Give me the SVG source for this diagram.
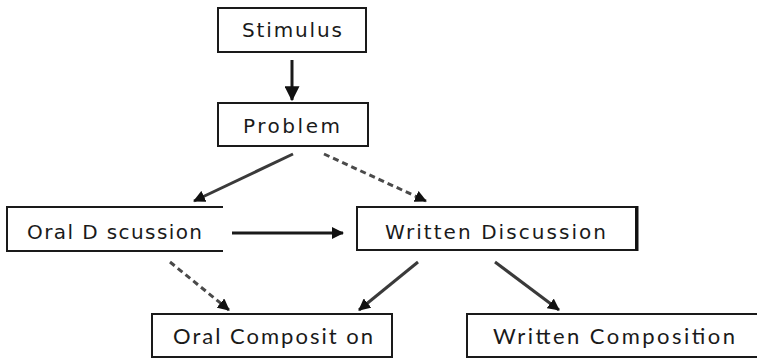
<svg xmlns="http://www.w3.org/2000/svg" width="757" height="358" viewBox="0 0 757 358">
  <style>
    .box { fill: #ffffff; stroke: #1a1a1a; stroke-width: 2; }
    .edge { fill: #ffffff; stroke: #1a1a1a; stroke-width: 2; }
    .lbl { font-family: "DejaVu Sans", Verdana, sans-serif; font-size: 20px; fill: #1a1a1a; }
    .lbl2 { font-family: Lato, "Liberation Sans", sans-serif; font-size: 22px; fill: #1a1a1a; }
    .solid { fill: none; stroke: #1a1a1a; stroke-width: 3; }
    .solid-gray { fill: none; stroke: #3a3a3a; stroke-width: 3; }
    .dashed { fill: none; stroke: #4a4a4a; stroke-width: 3; stroke-dasharray: 6 4; }
  </style>
  <defs>
    <marker id="head" viewBox="0 0 12 12" refX="11" refY="6" markerWidth="12" markerHeight="12" markerUnits="userSpaceOnUse" orient="auto">
      <path d="M0,0 L12,6 L0,12 Z" fill="#111111"/>
    </marker>
    <marker id="head-big" viewBox="0 0 12 12" refX="11" refY="6" markerWidth="15" markerHeight="15" markerUnits="userSpaceOnUse" orient="auto">
      <path d="M0,0 L12,6 L0,12 Z" fill="#111111"/>
    </marker>
  </defs>

  <rect width="757" height="358" fill="#ffffff"/>

  <!-- connectors -->
  <g id="connectors">
    <line class="solid" x1="292" y1="60" x2="292" y2="100" stroke-width="2" marker-end="url(#head-big)"/>
    <line class="solid-gray" x1="293" y1="154" x2="194" y2="201" marker-end="url(#head)"/>
    <line class="dashed" x1="324" y1="154" x2="426" y2="201" marker-end="url(#head)"/>
    <line class="solid" x1="232" y1="233" x2="343" y2="233" marker-end="url(#head)"/>
    <line class="dashed" x1="170" y1="262" x2="229" y2="310" marker-end="url(#head)"/>
    <line class="solid-gray" x1="418" y1="262" x2="359" y2="310" marker-end="url(#head)"/>
    <line class="solid-gray" x1="495" y1="262" x2="559" y2="310" marker-end="url(#head)"/>
  </g>

  <!-- nodes -->
  <g id="stimulus">
    <rect class="box" x="218" y="8" width="148" height="44"/>
    <text class="lbl" x="242" y="37" textLength="100" lengthAdjust="spacing">Stimulus</text>
  </g>

  <g id="problem">
    <rect class="box" x="218" y="103" width="150" height="43"/>
    <text class="lbl" x="243" y="133" textLength="97" lengthAdjust="spacing">Problem</text>
  </g>

  <g id="oral-discussion">
    <path class="edge" d="M223,207 H7 V251 H223"/>
    <text class="lbl" x="27" y="239" textLength="175" lengthAdjust="spacing">Oral D scussion</text>
  </g>

  <g id="written-discussion">
    <rect class="box" x="357" y="207" width="279" height="43"/>
    <line x1="637" y1="206" x2="637" y2="251" stroke="#111111" stroke-width="3"/>
    <text class="lbl" x="385" y="239" textLength="221" lengthAdjust="spacing">Written Discussion</text>
  </g>

  <g id="oral-composition">
    <rect class="box" x="152" y="314" width="240" height="43"/>
    <text class="lbl2" x="173" y="344" textLength="200" lengthAdjust="spacing">Oral Composit on</text>
  </g>

  <g id="written-composition">
    <rect class="box" x="467" y="314" width="300" height="43"/>
    <text class="lbl2" x="493" y="344" textLength="242" lengthAdjust="spacing">Written Composition</text>
  </g>
</svg>
